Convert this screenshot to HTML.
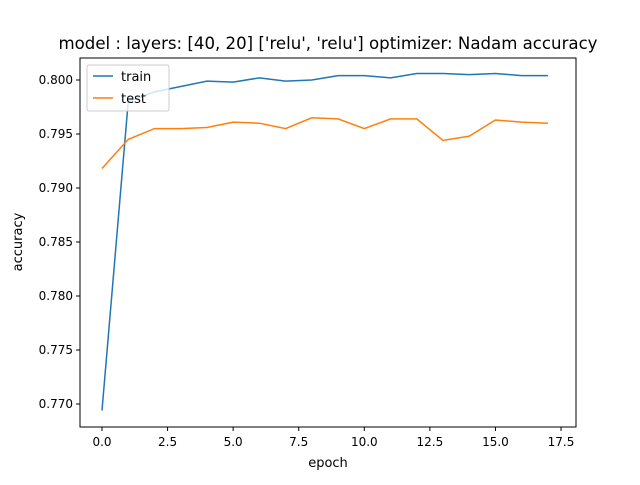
<!DOCTYPE html>
<html><head><meta charset="utf-8"><style>
body{margin:0;background:#fff;}
svg text{font-family:"DejaVu Sans","Liberation Sans",sans-serif;fill:#000;}
</style></head><body>
<svg id="chart" width="640" height="480" viewBox="0 0 640 480" xmlns="http://www.w3.org/2000/svg">
<rect width="640" height="480" fill="#fff"/>
<text x="328" y="49" font-size="16.6" text-anchor="middle">model : layers: [40, 20] ['relu', 'relu'] optimizer: Nadam accuracy</text>
<g id="plot"></g>
<rect x="80" y="58" width="496" height="369" fill="none" stroke="#000" stroke-width="1"/>
<text x="328" y="467" font-size="13" text-anchor="middle">epoch</text>
<text transform="translate(22,242) rotate(-90)" font-size="13" text-anchor="middle">accuracy</text>
<g>
<rect x="87" y="65" width="82" height="46" fill="#fff" fill-opacity="0.8" stroke="#ccc" rx="2"/>
<line x1="93" y1="76" x2="113" y2="76" stroke="#1f77b4" stroke-width="1.5"/>
<text x="121" y="81" font-size="13">train</text>
<line x1="93" y1="98" x2="113" y2="98" stroke="#ff7f0e" stroke-width="1.5"/>
<text x="121" y="103" font-size="13">test</text>
</g>
</svg>
<script>
const epochs=[0,1,2,3,4,5,6,7,8,9,10,11,12,13,14,15,16,17];
const trainAcc=[0.7694,0.7980,0.7989,0.7994,0.7999,0.7998,0.8002,0.7999,0.8000,0.8004,0.8004,0.8002,0.8006,0.8006,0.8005,0.8006,0.8004,0.8004];
const testAcc=[0.7918,0.7945,0.7955,0.7955,0.7956,0.7961,0.7960,0.7955,0.7965,0.7964,0.7955,0.7964,0.7964,0.7944,0.7948,0.7963,0.7961,0.7960];
const xTicks=[0,2.5,5,7.5,10,12.5,15,17.5];
const xTickLabels=["0.0","2.5","5.0","7.5","10.0","12.5","15.0","17.5"];
const yTicks=[0.770,0.775,0.780,0.785,0.790,0.795,0.800];
const yTickLabels=["0.770","0.775","0.780","0.785","0.790","0.795","0.800"];
const xs=v=>102+v*26.23;
const ys=v=>80-(v-0.800)*10800;
const NS="http://www.w3.org/2000/svg";
const g=document.getElementById('plot');
function mk(t,a){const e=document.createElementNS(NS,t);for(const k in a)e.setAttribute(k,a[k]);g.appendChild(e);return e;}
xTicks.forEach((t,i)=>{
 const l=mk('line',{x1:xs(t),x2:xs(t),y1:427,y2:431,stroke:'#000'});
 
 
 const tx=mk('text',{x:xs(t),y:446,'font-size':12,'text-anchor':'middle'});tx.textContent=xTickLabels[i];
 
 
});
yTicks.forEach((t,i)=>{
 const l=mk('line',{x1:76,x2:80,y1:ys(t),y2:ys(t),stroke:'#000'});
 
 
 const tx=mk('text',{x:73,y:ys(t)+4,'font-size':12,'text-anchor':'end'});tx.textContent=yTickLabels[i];
 
 
});
function series(vals,color,name){
 const p=mk('polyline',{points:vals.map((v,i)=>xs(epochs[i])+','+ys(v)).join(' '),fill:'none',stroke:color,'stroke-width':1.5});
 
 
}
series(trainAcc,'#1f77b4','train-line');
series(testAcc,'#ff7f0e','test-line');
</script>
</body></html>
